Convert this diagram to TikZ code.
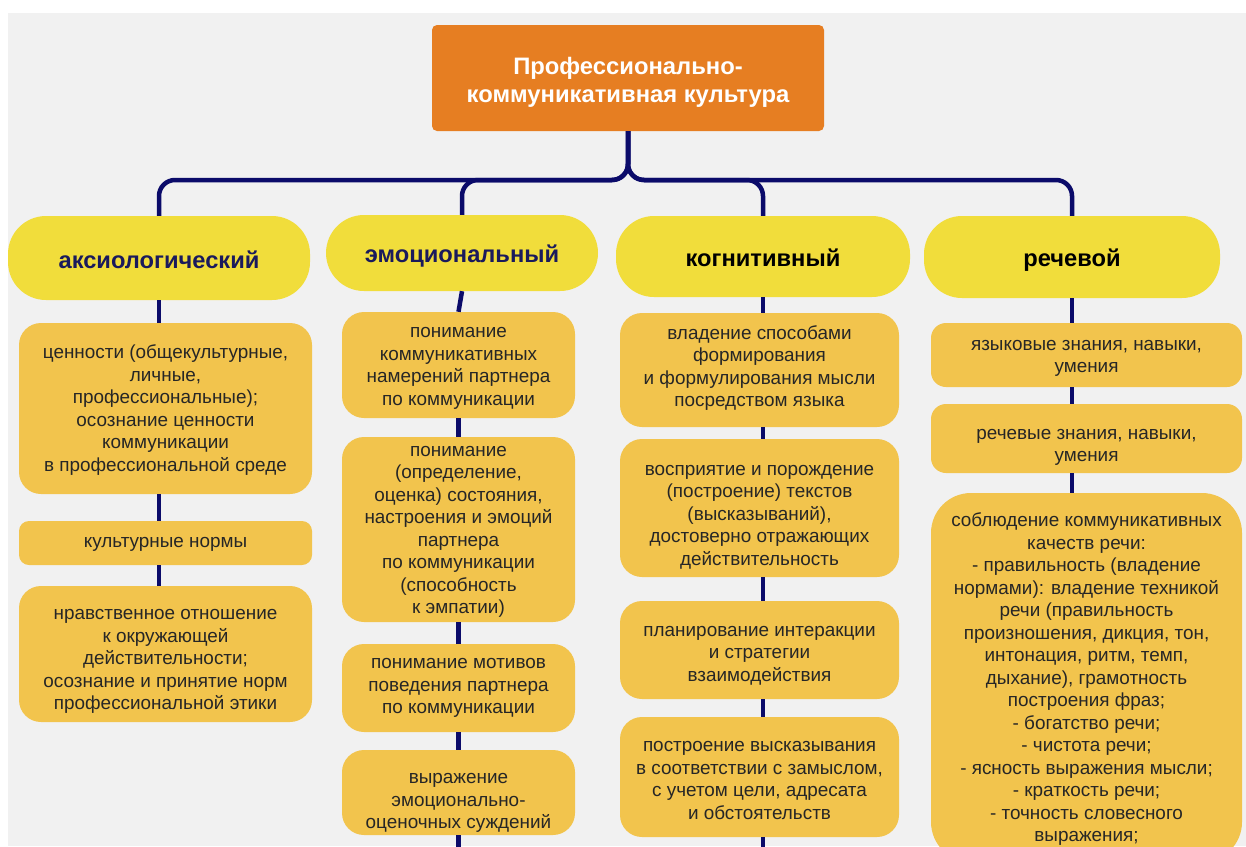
\documentclass[tikz,border=0pt]{standalone}
\usepackage{fontspec}
\setmainfont{Liberation Sans}
\definecolor{bgc}{HTML}{F1F1F1}
\definecolor{orangec}{HTML}{E67E22}
\definecolor{hdrc}{HTML}{F1DD3B}
\definecolor{boxc}{HTML}{F2C44D}
\definecolor{navy}{HTML}{0B0B6A}
\definecolor{hdrtxt}{HTML}{1A1A5C}
\definecolor{txt}{HTML}{262626}
\newcommand{\boxtxt}[2]{\raisebox{\dimexpr#1-2pt\relax}[\height][\depth]{\begin{tabular}{@{}c@{}}#2\end{tabular}}}
\newcommand{\hdrtext}[2]{\raisebox{#1}[\height][\depth]{#2}}
\begin{document}
\begin{tikzpicture}[x=1pt,y=-1pt,
  conn/.style={draw=navy, line width=4.5pt},
  box/.style={fill=boxc, rounded corners=22pt, inner sep=0pt,
    font=\fontsize{18.9}{22.5}\selectfont, text=txt},
  hdr/.style={fill=hdrc, rounded corners=38pt, inner sep=0pt,
    font=\fontsize{23.7}{28}\selectfont\bfseries},
  titlebox/.style={fill=orangec, rounded corners=5pt, inner sep=0pt,
    text=white, font=\fontsize{23.8}{28}\selectfont\bfseries}]
\useasboundingbox (0,0) rectangle (1246,846);
\clip (0,0) rectangle (1246,846);
\fill[white] (0,0) rectangle (1246,846);
\fill[bgc] (8,13) rectangle (1246,846);

% title
\node[titlebox, minimum width=392pt, minimum height=106pt] (title) at (628,78)
  {\boxtxt{-2.5pt}{Профессионально-\\коммуникативная культура}};

% headers
\node[hdr, text=hdrtxt, minimum width=302pt, minimum height=84pt] (h1) at (159,258) {\hdrtext{-2pt}{аксиологический}};
\node[hdr, text=hdrtxt, minimum width=272pt, minimum height=76pt] (h2) at (462,253) {\hdrtext{-3pt}{эмоциональный}};
\node[hdr, text=black, minimum width=294pt, minimum height=81pt] (h3) at (763,256.5) {\hdrtext{-1pt}{когнитивный}};
\node[hdr, text=black, minimum width=296pt, minimum height=82pt] (h4) at (1072,257) {\hdrtext{-3pt}{речевой}};

% column 1
\node[box, minimum width=293pt, minimum height=171pt] (a1) at (165.5,408.5)
  {\boxtxt{0pt}{ценности (общекультурные,\\личные,\\профессиональные);\\осознание ценности\\коммуникации\\в профессиональной среде}};
\node[box, rounded corners=10pt, minimum width=293pt, minimum height=44pt] (a2) at (165.5,543)
  {\boxtxt{2pt}{культурные нормы}};
\node[box, minimum width=293pt, minimum height=136pt] (a3) at (165.5,654)
  {\boxtxt{-4pt}{нравственное отношение\\к окружающей\\действительности;\\осознание и принятие норм\\профессиональной этики}};

% column 2
\node[box, minimum width=233pt, minimum height=106pt] (e1) at (458.5,365)
  {\boxtxt{0pt}{понимание\\коммуникативных\\намерений партнера\\по коммуникации}};
\node[box, minimum width=233pt, minimum height=185pt] (e2) at (458.5,529.5)
  {\boxtxt{1pt}{понимание\\(определение,\\оценка) состояния,\\настроения и эмоций\\партнера\\по коммуникации\\(способность\\к эмпатии)}};
\node[box, minimum width=233pt, minimum height=88pt] (e3) at (458.5,688)
  {\boxtxt{3.5pt}{понимание мотивов\\поведения партнера\\по коммуникации}};
\node[box, minimum width=233pt, minimum height=85pt] (e4) at (458.5,792.5)
  {\boxtxt{-7pt}{выражение\\эмоционально-\\оценочных суждений}};

% column 3
\node[box, minimum width=279pt, minimum height=114pt] (k1) at (759.5,370)
  {\boxtxt{3.5pt}{владение способами\\формирования\\и формулирования мысли\\посредством языка}};
\node[box, minimum width=279pt, minimum height=138pt] (k2) at (759.5,508)
  {\boxtxt{-5.5pt}{восприятие и порождение\\(построение) текстов\\(высказываний),\\достоверно отражающих\\действительность}};
\node[box, minimum width=279pt, minimum height=98pt] (k3) at (759.5,650)
  {\boxtxt{-2pt}{планирование интеракции\\и стратегии\\взаимодействия}};
\node[box, minimum width=279pt, minimum height=120pt] (k4) at (759.5,777)
  {\boxtxt{-2pt}{построение высказывания\\в соответствии с замыслом,\\с учетом цели, адресата\\и обстоятельств}};

% column 4
\node[box, rounded corners=15pt, minimum width=311pt, minimum height=64pt] (r1) at (1086.5,355)
  {\boxtxt{0pt}{языковые знания, навыки,\\умения}};
\node[box, rounded corners=15pt, minimum width=311pt, minimum height=69pt] (r2) at (1086.5,438.5)
  {\boxtxt{-5.5pt}{речевые знания, навыки,\\умения}};
\node[box, rounded corners=40pt, minimum width=311pt, minimum height=369pt] (r3) at (1086.5,677.5)
  {\boxtxt{0pt}{соблюдение коммуникативных\\качеств речи:\\- правильность (владение\\нормами): владение техникой\\речи (правильность\\произношения, дикция, тон,\\интонация, ритм, темп,\\дыхание), грамотность\\построения фраз;\\- богатство речи;\\- чистота речи;\\- ясность выражения мысли;\\- краткость речи;\\- точность словесного\\выражения;}};

% connectors from title
\coordinate (bar) at (628,180);
\draw[conn, rounded corners=16pt] (title.south) -- (bar) -- (h1.north |- bar) -- (h1.north);
\draw[conn, rounded corners=16pt] (title.south) -- (bar) -- (h2.north |- bar) -- (h2.north);
\draw[conn, rounded corners=16pt] (title.south) -- (bar) -- (h3.north |- bar) -- (h3.north);
\draw[conn, rounded corners=16pt] (title.south) -- (bar) -- (h4.north |- bar) -- (h4.north);

% column connectors
\draw[conn] (h1.south) -- (a1.north -| h1.south);
\draw[conn] (a1.south -| h1.south) -- (a2.north -| h1.south);
\draw[conn] (a2.south -| h1.south) -- (a3.north -| h1.south);

\draw[conn] (h2.south) -- (e1.north);
\draw[conn] (e1.south) -- (e2.north);
\draw[conn] (e2.south) -- (e3.north);
\draw[conn] (e3.south) -- (e4.north);
\coordinate (e5) at (458.5,852);
\draw[conn] (e4.south) -- (e5);

\draw[conn] (h3.south) -- (k1.north -| h3.south);
\draw[conn] (k1.south -| h3.south) -- (k2.north -| h3.south);
\draw[conn] (k2.south -| h3.south) -- (k3.north -| h3.south);
\draw[conn] (k3.south -| h3.south) -- (k4.north -| h3.south);
\coordinate (k5) at (763,852);
\draw[conn] (k4.south -| h3.south) -- (k5);

\draw[conn] (h4.south) -- (r1.north -| h4.south);
\draw[conn] (r1.south -| h4.south) -- (r2.north -| h4.south);
\draw[conn] (r2.south -| h4.south) -- (r3.north -| h4.south);
\end{tikzpicture}
\end{document}
